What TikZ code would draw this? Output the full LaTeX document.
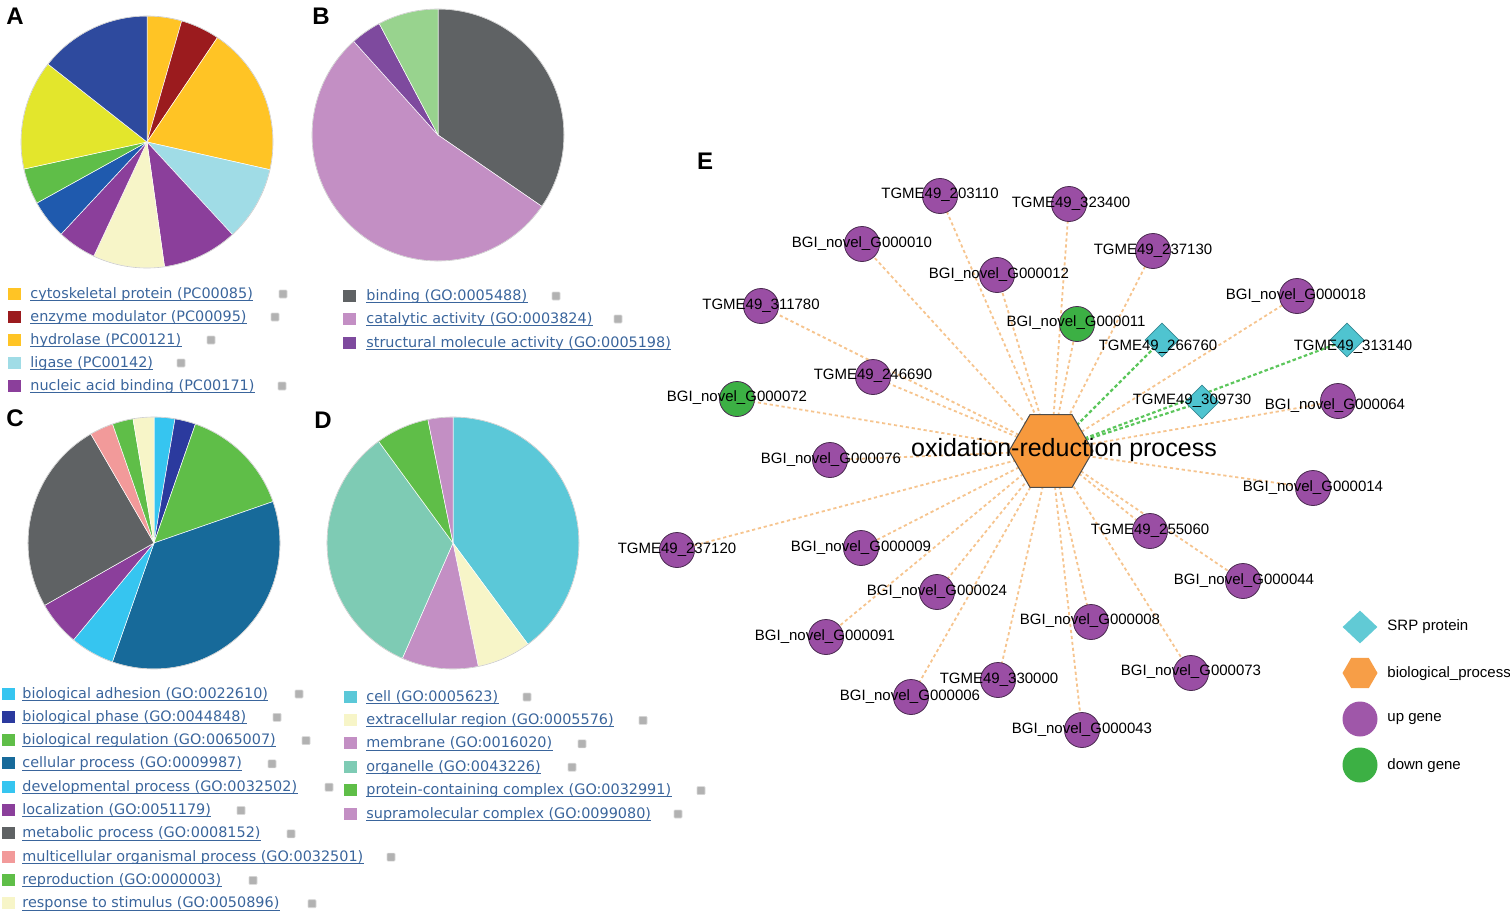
\documentclass[tikz,border=0pt]{standalone}
\usepackage{fontspec}
\setmainfont{Liberation Sans}
\newfontfamily\legfont{DejaVu Sans}
\usetikzlibrary{shapes.geometric}
\pgfdeclarelayer{bg}
\pgfsetlayers{bg,main}
\definecolor{cgold}{HTML}{FFC425}
\definecolor{cred}{HTML}{9B1B1E}
\definecolor{cltblue}{HTML}{A0DCE6}
\definecolor{cpurp}{HTML}{8B3F9B}
\definecolor{ccream}{HTML}{F7F5C8}
\definecolor{cblue}{HTML}{1F5AAE}
\definecolor{cgreen}{HTML}{5FBE48}
\definecolor{clime}{HTML}{E3E62C}
\definecolor{cnavy}{HTML}{2E4A9E}
\definecolor{cgray}{HTML}{5F6264}
\definecolor{cpink}{HTML}{C38FC4}
\definecolor{cviol}{HTML}{7E4A9E}
\definecolor{cmint}{HTML}{98D38E}
\definecolor{csky}{HTML}{36C5F0}
\definecolor{cindigo}{HTML}{2B3A9E}
\definecolor{cteal}{HTML}{176A9A}
\definecolor{csalmon}{HTML}{F29A9A}
\definecolor{ccyan}{HTML}{5BC8D8}
\definecolor{corg}{HTML}{7ECBB4}
\definecolor{linkc}{HTML}{3A659C}
\definecolor{upc}{HTML}{9A4EA4}
\definecolor{dnc}{HTML}{3CB044}
\definecolor{srpc}{HTML}{4FC4D0}
\definecolor{hexc}{HTML}{F7993D}
\definecolor{edgeo}{HTML}{F6C48E}
\definecolor{edgeg}{HTML}{5CC65C}
\definecolor{nodeb}{HTML}{4A2A50}

\newcommand\legrow[7]{%
  \node[legsq, fill=#5] (#1s) at (#2+6.5,#4-4.5) {};
  \node[legtxt] (#1) at (#3,#4) {#6};
  \draw[ulk] ([yshift=-1.1pt]#1.base west) -- ([yshift=-1.1pt]#1.base east);
  \node[icon] (#1i) at (#7,#4-4) {};
}
\newcommand\drawpie[4]{%
  \begin{scope}[shift={(#1,#2)},x=0.5pt,y=0.5pt]
    \foreach \a/\b/\pc in {#4} {
      \fill[\pc,draw=white,line width=0.25pt] (0,0) -- ({90-\a}:#3)
        arc[start angle={90-\a},end angle={90-\b},radius=#3] -- cycle;
    }
    \draw[gray!40,line width=0.3pt] (0,0) circle[radius=#3];
  \end{scope}
}

\begin{document}
\begin{tikzpicture}[x=0.5pt,y=-0.5pt,
  panel/.style={font=\bfseries\fontsize{12}{14}\selectfont, inner sep=0},
  legsq/.style={rectangle, minimum width=6.5pt, minimum height=6pt, inner sep=0},
  legtxt/.style={anchor=base west, inner sep=0, text=linkc, font=\legfont\fontsize{7.2}{8}\selectfont},
  ulk/.style={draw=linkc, line width=0.35pt},
  icon/.style={rectangle, minimum size=4pt, inner sep=0, fill=gray!60, draw=gray!30, line width=0.3pt, rounded corners=0.4pt},
  upg/.style={circle, fill=upc, draw=nodeb, line width=0.4pt, minimum size=17.5pt, inner sep=0},
  dng/.style={upg, fill=dnc},
  srp/.style={diamond, fill=srpc, draw=srpc!70!black, line width=0.3pt, minimum width=17pt, minimum height=17pt, inner sep=0},
  hexs/.style={regular polygon, regular polygon sides=6, minimum size=42pt, inner sep=0, fill=hexc, draw=black!70, line width=0.5pt},
  lab/.style={inner sep=0, text=black, font=\fontsize{7.5}{9}\selectfont},
  biglab/.style={inner sep=0, text=black, font=\fontsize{12.5}{14}\selectfont},
  oedge/.style={draw=edgeo, dash pattern=on 1.6pt off 1.4pt, line width=0.9pt},
  gedge/.style={draw=edgeg, dash pattern=on 1.8pt off 1.2pt, line width=1.1pt}
]
\useasboundingbox (0,0) rectangle (1510,920);

% ---------- panel letters
\node[panel] (pA) at (15,16) {A};
\node[panel] (pB) at (321,16) {B};
\node[panel] (pC) at (15,418) {C};
\node[panel] (pD) at (323,420) {D};
\node[panel] (pE) at (705,161) {E};

% ---------- pies
\drawpie{147}{142}{126}{0/16/cgold, 16/34/cred, 34/102.7/cgold, 102.7/137.3/cltblue, 137.3/172/cpurp, 172/205/ccream, 205/223/cpurp, 223/241/cblue, 241/257.6/cgreen, 257.6/308.2/clime, 308.2/360/cnavy}
\drawpie{438}{135}{126}{0/124.5/cgray, 124.5/318/cpink, 318/332.2/cviol, 332.2/360/cmint}
\drawpie{154}{543}{126}{0/9.6/csky, 9.6/19.2/cindigo, 19.2/70.8/cgreen, 70.8/199.3/cteal, 199.3/219.7/csky, 219.7/240.3/cpurp, 240.3/329.9/cgray, 329.9/340.8/csalmon, 340.8/350.4/cgreen, 350.4/360/ccream}
\drawpie{453}{543}{126}{0/143.5/ccyan, 143.5/168.4/ccream, 168.4/203.7/cpink, 203.7/323.8/corg, 323.8/348.5/cgreen, 348.5/360/cpink}

% ---------- legends
\legrow{la1}{8}{30}{298}{cgold}{cytoskeletal protein (PC00085)}{283}
\legrow{la2}{8}{30}{321}{cred}{enzyme modulator (PC00095)}{275}
\legrow{la3}{8}{30}{344}{cgold}{hydrolase (PC00121)}{211}
\legrow{la4}{8}{30}{367}{cltblue}{ligase (PC00142)}{181}
\legrow{la5}{8}{30}{390}{cpurp}{nucleic acid binding (PC00171)}{282}

\legrow{lb1}{343}{366}{300}{cgray}{binding (GO:0005488)}{556}
\legrow{lb2}{343}{366}{323}{cpink}{catalytic activity (GO:0003824)}{618}
\node[legsq, fill=cviol] (lb3s) at (349.5,342.5) {};
\node[legtxt] (lb3) at (366,347) {structural molecule activity (GO:0005198)};
\draw[ulk] ([yshift=-1.1pt]lb3.base west) -- ([yshift=-1.1pt]lb3.base east);

\legrow{lc1}{2}{22}{698}{csky}{biological adhesion (GO:0022610)}{299}
\legrow{lc2}{2}{22}{721.3}{cindigo}{biological phase (GO:0044848)}{277}
\legrow{lc3}{2}{22}{744.6}{cgreen}{biological regulation (GO:0065007)}{306}
\legrow{lc4}{2}{22}{767.9}{cteal}{cellular process (GO:0009987)}{272}
\legrow{lc5}{2}{22}{791.2}{csky}{developmental process (GO:0032502)}{329}
\legrow{lc6}{2}{22}{814.5}{cpurp}{localization (GO:0051179)}{241}
\legrow{lc7}{2}{22}{837.8}{cgray}{metabolic process (GO:0008152)}{291}
\legrow{lc8}{2}{22}{861.1}{csalmon}{multicellular organismal process (GO:0032501)}{391}
\legrow{lc9}{2}{22}{884.4}{cgreen}{reproduction (GO:0000003)}{253}
\legrow{lc10}{2}{22}{907.7}{ccream}{response to stimulus (GO:0050896)}{312}

\legrow{ld1}{344}{366}{701}{ccyan}{cell (GO:0005623)}{527}
\legrow{ld2}{344}{366}{724.4}{ccream}{extracellular region (GO:0005576)}{643}
\legrow{ld3}{344}{366}{747.8}{cpink}{membrane (GO:0016020)}{582}
\legrow{ld4}{344}{366}{771.2}{corg}{organelle (GO:0043226)}{572}
\legrow{ld5}{344}{366}{794.6}{cgreen}{protein-containing complex (GO:0032991)}{701}
\legrow{ld6}{344}{366}{818}{cpink}{supramolecular complex (GO:0099080)}{678}

% ---------- network
\node[hexs] (hex) at (1051,451) {};

\foreach \n/\x/\y/\lx/\ly/\s/\t in {
  a1/940/196/940/195/upg/TGME49\_203110,
  a2/1069/204/1071/204/upg/TGME49\_323400,
  a3/862/244/862/244/upg/BGI\_novel\_G000010,
  a4/1153/251/1153/251/upg/TGME49\_237130,
  a5/997/275/999/275/upg/BGI\_novel\_G000012,
  a6/1297/296/1296/296/upg/BGI\_novel\_G000018,
  a7/761/306/761/306/upg/TGME49\_311780,
  a8/1077/324/1076/323/dng/BGI\_novel\_G000011,
  a9/873/377/873/376/upg/TGME49\_246690,
  a10/737/399/737/398/dng/BGI\_novel\_G000072,
  a11/1338/401/1335/406/upg/BGI\_novel\_G000064,
  a12/830/460/831/460/upg/BGI\_novel\_G000076,
  a13/1313/488/1313/488/upg/BGI\_novel\_G000014,
  a14/1150/531/1150/531/upg/TGME49\_255060,
  a15/677/550/677/550/upg/TGME49\_237120,
  a16/861/548/861/548/upg/BGI\_novel\_G000009,
  a17/1243/581/1244/581/upg/BGI\_novel\_G000044,
  a18/937/592/937/592/upg/BGI\_novel\_G000024,
  a19/1091/622/1090/621/upg/BGI\_novel\_G000008,
  a20/826/637/825/637/upg/BGI\_novel\_G000091,
  a21/1191/673/1191/672/upg/BGI\_novel\_G000073,
  a22/998/680/999/680/upg/TGME49\_330000,
  a23/911/697/910/697/upg/BGI\_novel\_G000006,
  a24/1082/730/1082/730/upg/BGI\_novel\_G000043,
  d1/1162/340/1158/347/srp/TGME49\_266760,
  d2/1347/340/1353/347/srp/TGME49\_313140,
  d3/1202/402/1192/401/srp/TGME49\_309730}{
  \node[\s] (\n) at (\x,\y) {};
  \node[lab] (l\n) at (\lx,\ly) {\t};
}

\begin{pgfonlayer}{bg}
  \foreach \i in {1,...,24} \draw[oedge] (hex.center) -- (a\i.center);
  \foreach \i in {1,2,3} \draw[gedge] (hex.center) -- (d\i.center);
\end{pgfonlayer}

\node[biglab] (hexl) at (1064,450) {oxidation-reduction process};

% ---------- legend E
\node[srp, draw=none, fill=srpc!90!white, minimum width=17.5pt, minimum height=16.5pt] (e1) at (1360,627) {};
\node[lab, anchor=west] (e1l) at (1387,627) {SRP protein};
\node[hexs, draw=none, fill=hexc!95!white, minimum size=17.5pt] (e2) at (1360,673) {};
\node[lab, anchor=west] (e2l) at (1387,674) {biological\_process};
\node[upg, draw=none, fill=upc!95!white] (e3) at (1360,719) {};
\node[lab, anchor=west] (e3l) at (1387,719) {up gene};
\node[dng, draw=none] (e4) at (1360,765) {};
\node[lab, anchor=west] (e4l) at (1387,766) {down gene};
\end{tikzpicture}
\end{document}
